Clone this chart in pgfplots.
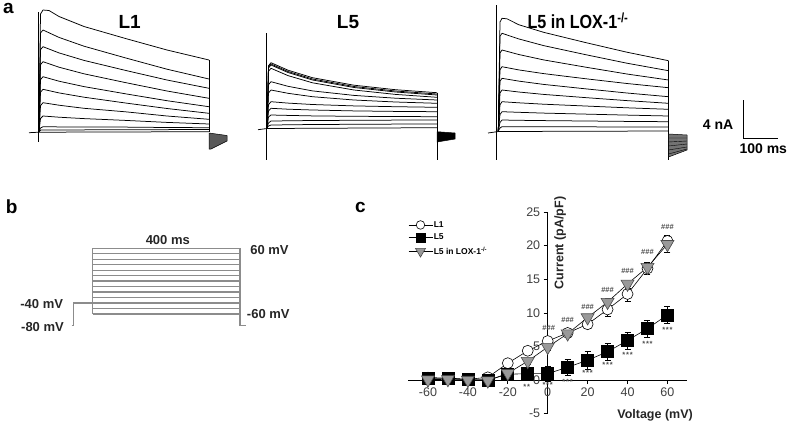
\documentclass[border=0pt]{standalone}
\usepackage{fontspec}
\setmainfont{Liberation Sans}
\usepackage{pgfplots}
\pgfplotsset{compat=1.18}
\tikzset{lab/.style={font=\bfseries\fontsize{13}{14}\selectfont, text=black!85}}
\begin{document}
\begin{tikzpicture}[x=1pt,y=1pt]
\useasboundingbox (0pt,0pt) rectangle (787pt,424pt);
% ---------------- panels a and b (pixel coordinates) ----------------
\begin{axis}[at={(0pt,0pt)}, anchor=south west, scale only axis,
  width=787pt, height=424pt, xmin=0, xmax=787, ymin=0, ymax=424,
  y dir=reverse, hide axis, clip=false,
  tr/.style={black, line width=0.75pt, line join=round},
  pulse/.style={black!45, line width=1.3pt, unbounded coords=jump}]
% panel letters and titles
\node[font=\bfseries\fontsize{19}{20}\selectfont] at (axis cs:8.5,8.7) {a};
\node[font=\bfseries\fontsize{19}{20}\selectfont] at (axis cs:11.7,206.7) {b};
\node[font=\bfseries\fontsize{19}{20}\selectfont] at (axis cs:360.3,207.2) {c};
\node[font=\bfseries\fontsize{19}{20}\selectfont, anchor=base] at (axis cs:129.7,28.3) {L1};
\node[font=\bfseries\fontsize{19}{20}\selectfont, anchor=base] at (axis cs:348,28.3) {L5};
\node[font=\bfseries\fontsize{19}{20}\selectfont, anchor=base] at (axis cs:578,28.3) {\scalebox{0.85}[1]{L5 in LOX-1\textsuperscript{-/-}}};
% ---- L1 traces ----
\addplot[tr] coordinates {(39,131.7)(40.5,14)(43,10)(49,10.5)(59,16.5)(84,26.5)(125.5,38.5)(167,50)(209,60)};
\addplot[tr] coordinates {(39,131.7)(40.5,33)(43,30)(59,37.4)(84,46.2)(125.5,57.9)(167,69.2)(209,79)};
\addplot[tr] coordinates {(39,131.7)(40.5,49.7)(43,46.7)(59,52.9)(84,60.4)(125.5,70.4)(167,80)(209,88.3)};
\addplot[tr] coordinates {(39,131.7)(40.5,64.7)(43,61.7)(59,67.2)(84,73.8)(125.5,82.6)(167,91)(209,98.3)};
\addplot[tr] coordinates {(39,131.7)(40.5,79.7)(43,76.7)(59,81.2)(84,86.6)(125.5,93.8)(167,100.7)(209,106.7)};
\addplot[tr] coordinates {(39,131.7)(40.5,92.3)(43,89.3)(59,92.9)(84,97.2)(125.5,103)(167,108.5)(209,113.3)};
\addplot[tr] coordinates {(39,131.7)(40.5,105.7)(43,102.7)(59,105.2)(84,108.3)(125.5,111.8)(167,116)(209,119.3)};
\addplot[tr] coordinates {(39,131.7)(40.5,118.5)(43,116)(59,117.2)(84,118.6)(125.5,120.4)(167,122.4)(209,124)};
\addplot[tr] coordinates {(39,131.7)(40.5,128)(43,126.7)(59,126.9)(84,127)(125.5,127.1)(167,127.5)(209,127.7)};
\addplot[tr] coordinates {(39,131.7)(41,130)(209,129.5)};
\addplot[tr] coordinates {(29,132.7)(39,132.2)(209,131.7)};
\addplot[tr] coordinates {(38.5,12)(38.5,141.7)};
\addplot[tr] coordinates {(209,60)(209,131.7)};
\addplot[black, fill=black!65, line width=0.5pt] coordinates {(209,133)(227,135.5)(227,141)(211,149)(209,149)(209,133)};
% ---- L5 traces ----
\addplot[tr] coordinates {(267,127.7)(268.5,65.7)(271,62.7)(288,70.2)(312.5,77.7)(354,85.2)(395.5,89.7)(437,92.7)};
\addplot[tr] coordinates {(267,127.7)(268.5,67)(271,64)(288,71.5)(312.5,79)(354,86.5)(395.5,91)(437,94)};
\addplot[tr] coordinates {(267,127.7)(268.5,68)(271,65)(288,72.5)(312.5,80)(354,87.5)(395.5,92)(437,95)};
\addplot[tr] coordinates {(267,127.7)(268.5,71.3)(271,68.3)(288,75.6)(312.5,82.8)(354,90)(395.5,94.4)(437,97.3)};
\addplot[tr] coordinates {(267,127.7)(268.5,84.7)(271,81.7)(288,86.3)(312.5,90.9)(354,95.4)(395.5,98.2)(437,100)};
\addplot[tr] coordinates {(267,127.7)(268.5,93)(271,90)(288,93.3)(312.5,96.7)(354,100)(395.5,102)(437,103.3)};
\addplot[tr] coordinates {(267,127.7)(268.5,104.7)(271,101.7)(288,103.1)(312.5,104.5)(354,105.9)(395.5,106.7)(437,107.3)};
\addplot[tr] coordinates {(267,127.7)(268.5,111)(271,108.3)(288,109.2)(312.5,110)(354,110.9)(395.5,111.4)(437,111.7)};
\addplot[tr] coordinates {(267,127.7)(268.5,117)(271,115)(288,115.4)(312.5,115.9)(354,116.3)(395.5,116.5)(437,116.7)};
\addplot[tr] coordinates {(267,127.7)(268.5,123)(271,121)(288,120.8)(312.5,120.5)(354,120.3)(395.5,120.1)(437,120)};
\addplot[tr] coordinates {(267,127.7)(268.5,126)(271,125)(288,124.8)(312.5,124.5)(354,124.3)(395.5,124.1)(437,124)};
\addplot[tr] coordinates {(258,129.7)(267,128.5)(437,127.7)};
\addplot[tr] coordinates {(266,33)(266,160)};
\addplot[tr] coordinates {(437,92.7)(437,160)};
\addplot[black, fill=black, line width=0.5pt] coordinates {(437,131.7)(455,133)(455,139)(437,142)(437,131.7)};
% ---- L5 in LOX-1-/- traces ----
\addplot[tr] coordinates {(498.3,131)(500,22)(502,18.3)(507,18.8)(518.7,24.7)(543.6,32.3)(585.3,42.5)(626.9,52.2)(668.5,60.7)};
\addplot[tr] coordinates {(498.3,131)(500,36.3)(502,33.3)(518.7,38.9)(543.6,45.6)(585.3,54.6)(626.9,63.2)(668.5,70.7)};
\addplot[tr] coordinates {(498.3,131)(500,53)(502,50)(518.7,54.5)(543.6,59.9)(585.3,67.1)(626.9,74)(668.5,80)};
\addplot[tr] coordinates {(498.3,131)(500,69.7)(502,66.7)(518.7,69.9)(543.6,73.6)(585.3,78.7)(626.9,83.5)(668.5,87.7)};
\addplot[tr] coordinates {(498.3,131)(500,81.3)(502,78.3)(518.7,81.1)(543.6,84.4)(585.3,88.8)(626.9,93)(668.5,96.7)};
\addplot[tr] coordinates {(498.3,131)(500,93)(502,90)(518.7,92)(543.6,94.4)(585.3,97.6)(626.9,100.6)(668.5,103.3)};
\addplot[tr] coordinates {(498.3,131)(500,104.7)(502,101.7)(518.7,102.8)(543.6,104.2)(585.3,106)(626.9,107.8)(668.5,109.3)};
\addplot[tr] coordinates {(498.3,131)(500,114.5)(502,111.7)(518.7,112.3)(543.6,113.1)(585.3,114.1)(626.9,115.1)(668.5,116)};
\addplot[tr] coordinates {(498.3,131)(500,122.5)(502,120)(518.7,120.3)(543.6,120.6)(585.3,121)(626.9,121.4)(668.5,121.7)};
\addplot[tr] coordinates {(498.3,131)(500,128)(502,126.7)(668.5,127)};
\addplot[tr] coordinates {(488,133)(498.3,131.5)(668.5,131)};
\addplot[tr] coordinates {(496.7,5)(496.7,160)};
\addplot[tr] coordinates {(668.5,60.7)(668.5,160)};
\addplot[black, fill=black!55, line width=0.5pt] coordinates {(668.5,134)(687,135)(687,150)(668.5,157)(668.5,134)};
\addplot[black, line width=0.4pt, unbounded coords=jump] coordinates {(668.5,138)(687,138) (687,nan) (668.5,142)(687,141) (687,nan) (668.5,146)(687,144) (687,nan) (668.5,150)(687,147) (687,nan) (668.5,154)(687,149)};
% scale bar
\addplot[black, line width=1.2pt] coordinates {(743.3,100)(743.3,138.3)(778,138.3)};
\node[font=\bfseries\fontsize{14}{15}\selectfont] at (axis cs:718,125) {4 nA};
\node[font=\bfseries\fontsize{14}{15}\selectfont] at (axis cs:763.3,148.3) {100 ms};
% ---- panel b: voltage protocol ----
\addplot[pulse] coordinates {(92.7,248.3)(240,248.3) (240,nan) (92.7,253.8)(240,253.8) (240,nan)
 (92.7,259.2)(240,259.2) (240,nan) (92.7,264.7)(240,264.7) (240,nan) (92.7,270.2)(240,270.2) (240,nan)
 (92.7,275.7)(240,275.7) (240,nan) (92.7,281.1)(240,281.1) (240,nan) (92.7,286.6)(240,286.6) (240,nan)
 (92.7,292.1)(240,292.1) (240,nan) (92.7,297.5)(240,297.5) (240,nan) (92.7,303)(240,303) (240,nan)
 (92.7,308.5)(240,308.5) (240,nan) (92.7,314)(240,314)};
\addplot[pulse] coordinates {(92.7,248.3)(92.7,314)};
\addplot[pulse] coordinates {(240,248.3)(240,325.5)(246,325.5)};
\addplot[pulse] coordinates {(71.7,325.5)(73.3,325.5)(73.3,303)(92.7,303)};
\node[lab] at (axis cs:167.8,240) {400 ms};
\node[lab] at (axis cs:269.5,250) {60 mV};
\node[lab] at (axis cs:268.3,314.3) {-60 mV};
\node[lab] at (axis cs:41.7,304.3) {-40 mV};
\node[lab] at (axis cs:42.5,326.7) {-80 mV};
\end{axis}
% ---------------- panel c: I-V curves ----------------
\begin{axis}[at={(408pt,10.4pt)}, anchor=south west, scale only axis,
  width=279.4pt, height=201.6pt,
  xmin=-70, xmax=70, ymin=-5, ymax=25,
  axis lines=middle, axis line style={-, black, line width=0.6pt},
  xtick={-60,-40,...,60}, ytick={-5,0,...,25},
  hide obscured x ticks=false, hide obscured y ticks=false,
  tick align=outside, major tick length=4pt, tick style={black, line width=0.6pt},
  ticklabel style={font=\fontsize{12.5}{14}\selectfont, text=black!75},
  /pgf/number format/assume math mode=true,
  xlabel={Voltage (mV)}, ylabel={Current (pA/pF)},
  every axis x label/.style={at={(axis cs:53.8,-5.2)}, anchor=center, font=\bfseries\fontsize{12.5}{14}\selectfont, text=black!85},
  every axis y label/.style={at={(axis cs:6.2,20.4)}, anchor=center, rotate=90, font=\bfseries\fontsize{12.5}{14}\selectfont, text=black!85},
  clip=false,
  legend style={at={(0,0.96)}, anchor=north west, draw=none, fill=none, inner sep=0pt,
     font=\bfseries\fontsize{8.5}{9}\selectfont, row sep=3.5pt, nodes={inner sep=1pt}},
  legend cell align=left,
  legend image code/.code={\draw[mark repeat=2,mark phase=2] plot coordinates {(0pt,0pt)(12pt,0pt)(24pt,0pt)};},
  annot/.style={draw=none, mark=none, nodes near coords={#1}, nodes near coords align=center,
     every node near coord/.append style={anchor=center, font=\bfseries\fontsize{7.5}{8}\selectfont, text=black!70}},
  ]
\addlegendimage{black, line width=0.6pt, mark=*, mark size=4.3pt, mark options={fill=white, draw=black}}
\addlegendentry{L1}
\addlegendimage{black, line width=0.6pt, mark=square*, mark size=4.4pt, mark options={fill=black}}
\addlegendentry{L5}
\addlegendimage{black, line width=0.6pt, mark=triangle*, mark size=5.8pt, mark options={fill=black!40, draw=black!70, rotate=180}}
\addlegendentry{L5 in LOX-1\textsuperscript{-/-}}
% L1
\addplot[forget plot, black, line width=0.6pt, mark=*, mark size=5.5pt, mark options={fill=white, draw=black},
  error bars/.cd, y dir=both, y explicit, error bar style={black, line width=0.6pt},
  error mark options={rotate=90, mark size=3pt, black}]
  table[x=x, y=y, y error=e] {
x y e
-60 0.35 0.2
-50 0.3 0.2
-40 0.1 0.2
-30 0.4 0.3
-20 2.5 0.3
-10 4.35 0.4
0 5.8 0.5
10 7.0 0.5
20 8.3 0.6
30 10.5 1.0
40 12.8 1.1
50 16.6 0.8
60 20.7 0.8
};
% L5
\addplot[forget plot, black, line width=0.6pt, mark=square*, mark size=6pt, mark options={fill=black},
  error bars/.cd, y dir=both, y explicit, error bar style={black, line width=0.6pt},
  error mark options={rotate=90, mark size=3pt, black}]
  table[x=x, y=y, y error=e] {
x y e
-60 0.2 0.2
-50 0.2 0.2
-40 0.1 0.2
-30 0.0 0.2
-20 0.85 0.3
-10 0.95 0.3
0 0.95 1.1
10 1.9 1.25
20 2.95 1.4
30 4.2 1.3
40 5.9 1.25
50 7.65 1.3
60 9.7 1.3
};
% L5 in LOX-1-/-
\addplot[forget plot, black, line width=0.6pt, mark=triangle*, mark size=7.5pt, mark options={fill=black!40, draw=black!70, rotate=180},
  error bars/.cd, y dir=both, y explicit, error bar style={black, line width=0.6pt},
  error mark options={rotate=90, mark size=3pt, black}]
  table[x=x, y=y, y error=e] {
x y e
-60 0.05 0.2
-50 0.1 0.2
-40 0.0 0.2
-30 -0.1 0.2
-20 1.0 0.3
-10 2.8 0.4
0 4.9 0.5
10 6.9 0.5
20 9.3 0.5
30 11.6 0.6
40 14.3 0.6
50 16.8 0.8
60 20.2 1.2
};
% significance marks
\addplot[annot={\#\#\#}, forget plot] coordinates {(0.5,7.8)(10,9.0)(20,10.9)(30,13.4)(40,16.2)(50,19.0)(60,22.8)};
\addplot[annot={*\kern0.8pt*\kern0.8pt*}, forget plot] coordinates {(0,-0.75)(10,-0.25)(20,1.1)(30,2.2)(40,3.7)(50,5.35)(60,7.5)};
\addplot[annot={*\kern0.8pt*}, forget plot] coordinates {(-10.5,-1.0)};
\end{axis}
\end{tikzpicture}
\end{document}
